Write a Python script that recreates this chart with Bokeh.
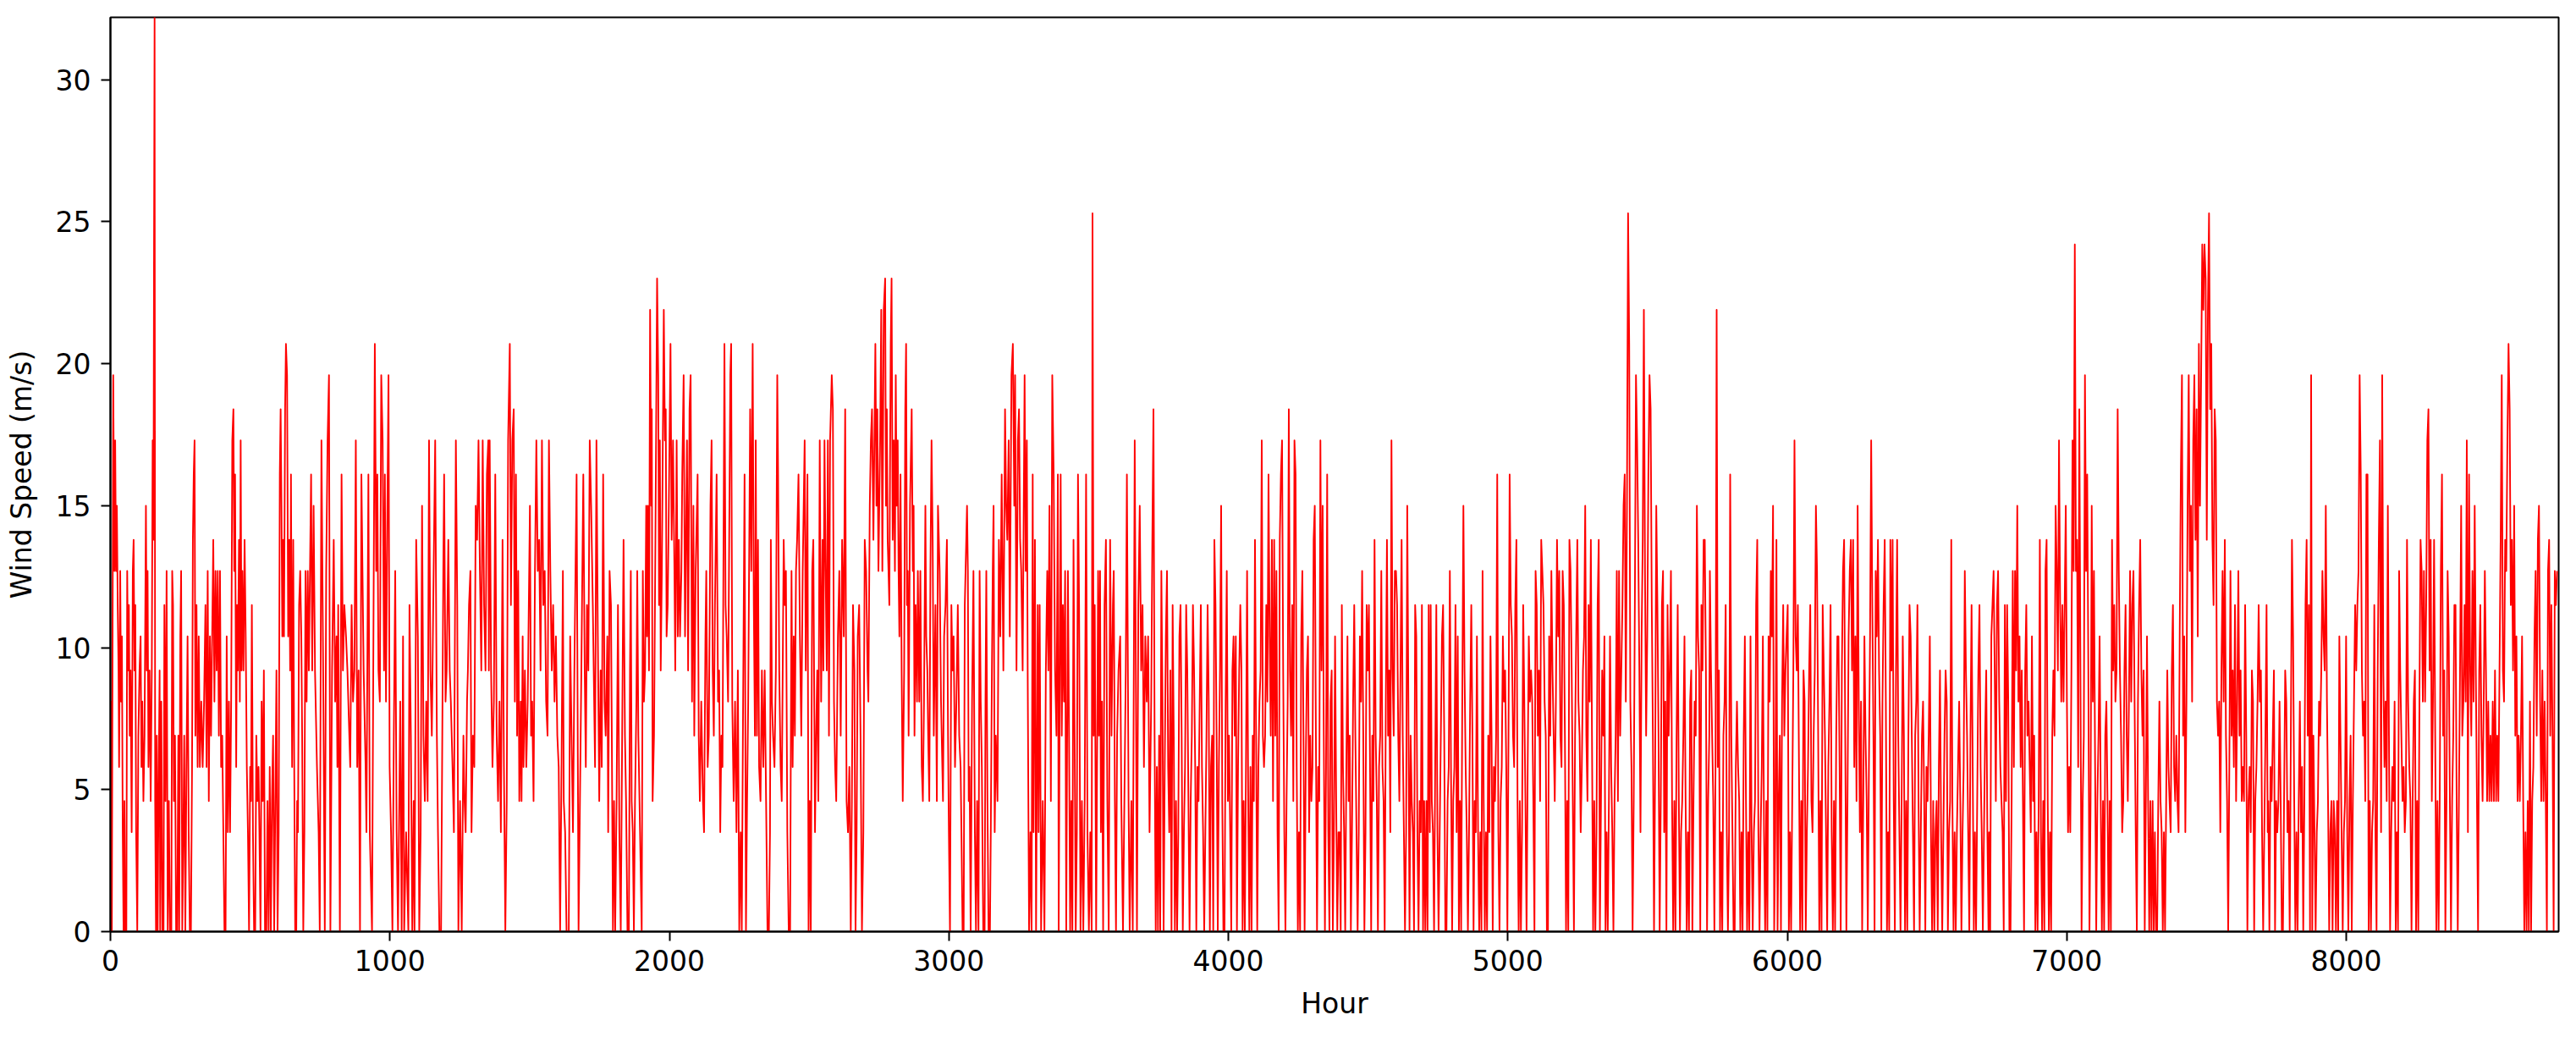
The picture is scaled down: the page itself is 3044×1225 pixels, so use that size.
import numpy as np
from bokeh.plotting import figure
from bokeh.models import Range1d, FixedTicker
from bokeh.embed import file_html
from bokeh.resources import INLINE

# ---- data (hourly wind speed, m/s) ----
hours_a = [0,2,5,10,14,17,20,23,26,29,
    31,35,38,41,44,47,50,53,57,60,
    63,66,69,72,76,80,83,86,89,92,
    96,100,104,108,111,114,118,122,127,130,
    133,136,140,144,148,151,154,156,158,160,
    163,166,169,172,176,178,182,186,190,193,
    197,201,205,209,213,218,221,224,227,231,
    235,239,243,246,250,253,257,261,264,268,
    272,276,280,284,288,292,295,298,301,304,
    308,312,316,320,325,330,335,340,344,348,
    352,356,360,364,368,372,376,380,384,388,
    392,396,400,404,408,412,416,420,424,428,
    432,436,440,443,446,450,453,456,460,463,
    466,469,472,476,480,484,488,492,496,500,
    503,506,510,514,518,522,526,530,533,537,
    541,545,549,553,558,562,566,570,574,578,
    582,586,590,594,598,602,606,609,612,615,
    618,621,625,628,632,636,640,643,646,650,
    654,657,661,665,668,671,675,679,683,686,
    690,694,698,702,706,710,714,718,722]
speed_a = [3.5,8.1,0,19.6,12.7,17.3,12.7,15.0,11.5,9.2,
    5.8,12.7,8.1,10.4,3.5,0,4.6,0,0,12.7,
    9.2,11.5,6.9,9.2,3.5,12.7,13.8,9.2,11.5,3.5,
    0,6.9,9.2,10.4,5.8,8.1,4.6,6.9,15.0,9.2,
    12.7,5.8,9.2,4.6,9.2,17.3,13.8,24.2,32.2,4.6,
    0,6.9,0,4.6,9.2,0,8.1,0,0,11.5,
    4.6,12.7,0,4.6,0,0,12.7,11.5,4.6,6.9,
    0,0,6.9,0,10.4,12.7,0,3.5,6.9,0,
    5.8,10.4,3.5,0,0,5.8,13.8,16.1,17.3,6.9,
    11.5,5.8,10.4,5.8,8.1,5.8,8.1,11.5,5.8,12.7,
    4.6,10.4,6.9,10.4,13.8,8.1,12.7,9.2,12.7,6.9,
    12.7,5.8,6.9,3.5,0,0,10.4,3.5,8.1,3.5,
    8.1,17.3,18.4,12.7,16.1,5.8,11.5,9.2,13.8,8.1,
    17.3,9.2,12.7,9.2,13.8,10.4,5.8,3.5,0,5.8,
    4.6,11.5,3.5,0,0,6.9,4.6,5.8,3.5,0,
    8.1,4.6,9.2,0,0,4.6,0,5.8,0,4.6,
    6.9,0,4.6,9.2,0,3.5,16.1,18.4,15.0,10.4,
    13.8,10.4,18.4,20.7,19.6,10.4,13.8,9.2,16.1,5.8,
    13.8,6.9,0,0,4.6,3.5,11.5,12.7,10.4,6.9,
    0,3.5,12.7,8.1,12.7,9.2,12.7,16.1,9.2]

hours_b = [727,732,739,745,749,755,762,767,772,777,
    782,787,793,799,804,809,812,815,821,827,
    832,837,843,848,858,863,868,873,878,883,
    888,893,898,906,913,916,923,928,936,946,
    951,955,959,964,969,974,979,982,986,991,
    995,999,1004,1009,1014,1019,1024,1029,1037,1042,
    1047,1051,1058,1066,1070,1075,1080,1085,1088,1094,
    1100,1105,1110,1115,1120,1125,1130,1135,1140,1145,
    1150,1155,1162,1168,1172,1177,1183,1186,1191,1194,
    1199,1203,1209,1214,1218,1224,1229,1236,1241,1245,
    1251,1257,1263,1267,1271,1276,1279,1283,1288,1292,
    1297,1302,1307,1312,1317,1322,1327,1332,1337,1342,
    1347,1352,1354,1357,1362,1367,1372,1377,1382,1387,
    1392,1397,1403,1408,1413,1418,1423,1429,1433,1438,
    1443,1447,1451,1455,1459,1463,1468,1471,1475,1478,
    1483,1488,1493,1501,1505,1509,1514,1519,1524,1529,
    1534,1539,1544,1549,1554,1559,1564,1569,1574,1579,
    1584,1589,1594,1599,1604,1609,1614,1619,1622,1627,
    1632,1640,1645,1650,1655,1660,1668,1675,1680,1685,
    1692,1697,1701,1705,1710,1715,1720]
speed_b = [15.0,9.2,5.8,3.5,0,17.3,8.1,0,12.7,17.3,
    19.6,0,9.2,13.8,8.1,10.4,5.8,11.5,0,16.1,
    9.2,11.5,10.4,9.2,5.8,11.5,8.1,9.2,17.3,5.8,
    9.2,0,16.1,9.2,5.8,3.5,16.1,3.5,0,20.7,
    12.7,16.1,9.2,8.1,19.6,17.3,9.2,16.1,8.1,15.0,
    19.6,5.8,3.5,0,6.9,12.7,3.5,0,8.1,0,
    10.4,0,3.5,0,11.5,6.9,0,4.6,0,13.8,
    10.4,0,3.5,15.0,6.9,4.6,8.1,4.6,17.3,9.2,
    6.9,11.5,17.3,6.9,3.5,0,0,4.6,12.7,16.1,
    8.1,9.2,13.8,9.2,8.1,5.8,3.5,17.3,11.5,0,
    4.6,0,6.9,4.6,3.5,8.1,9.2,11.5,12.7,3.5,
    6.9,5.8,15.0,13.8,17.3,12.7,9.2,17.3,11.5,9.2,
    16.1,17.3,9.2,17.3,9.2,5.8,8.1,16.1,6.9,4.6,
    8.1,3.5,13.8,5.8,0,4.6,17.3,20.7,11.5,17.3,
    18.4,8.1,16.1,6.9,12.7,4.6,8.1,4.6,10.4,5.8,
    9.2,5.8,8.1,15.0,6.9,8.1,4.6,12.7,17.3,12.7,
    13.8,9.2,17.3,11.5,12.7,8.1,6.9,17.3,12.7,9.2,
    11.5,8.1,10.4,6.9,5.8,0,5.8,12.7,4.6,3.5,
    0,0,10.4,6.9,3.5,9.2,16.1,0,4.6,9.2,
    16.1,9.2,5.8,11.5,9.2,17.3,15.0]

hours_c = [1726,1734,1739,1744,1749,1754,1758,1763,1768,1772,
    1778,1781,1786,1791,1794,1798,1802,1806,1811,1816,
    1821,1826,1831,1836,1841,1845,1850,1855,1859,1862,
    1865,1869,1873,1877,1882,1885,1889,1895,1901,1905,
    1909,1913,1917,1920,1923,1927,1931,1935,1937,1940,
    1945,1950,1956,1960,1963,1966,1969,1973,1980,1984,
    1987,1990,1994,1998,2004,2008,2013,2018,2021,2026,
    2030,2034,2038,2043,2046,2051,2056,2063,2067,2072,
    2076,2081,2086,2089,2094,2101,2105,2109,2114,2120,
    2124,2129,2132,2137,2141,2147,2151,2155,2159,2163,
    2169,2174,2178,2182,2186,2190,2197,2201,2205,2210,
    2214,2218,2221,2225,2230,2235,2240,2245,2250,2255,
    2259,2263,2269,2274,2278,2282,2289,2293,2298,2302,
    2306,2309,2313,2317,2321,2326,2331,2336,2341,2346,
    2351,2356,2360,2363,2367,2371,2376,2381,2386,2389,
    2393,2398,2402,2409,2413,2417,2422,2427,2432,2437,
    2441,2445,2449,2453,2457,2462,2467,2472,2477,2484,
    2488,2494,2498,2502,2506,2511,2515,2521,2525,2529,
    2533,2538,2543,2548,2551,2555,2559,2563,2567,2571,
    2575,2581,2585,2589,2593,2597,2603,2608,2613,2618,
    2624,2629,2634,2639,2644,2649,2653,2657,2662,2666,
    2670,2674,2679,2684,2689,2694,2699,2704,2709,2712,
    2717,2721]
speed_c = [11.5,5.8,17.3,10.4,4.6,9.2,5.8,16.1,8.1,6.9,
    10.4,3.5,12.7,11.5,6.9,0,4.6,0,4.6,11.5,
    3.5,0,6.9,13.8,6.9,4.6,0,0,9.2,12.7,
    4.6,3.5,0,4.6,8.1,12.7,6.9,3.5,0,12.7,
    8.1,9.2,15.0,10.4,15.0,9.2,21.9,15.0,18.4,4.6,
    6.9,13.8,23.0,19.6,11.5,17.3,9.2,12.7,21.9,17.3,
    18.4,10.4,11.5,15.0,20.7,13.8,17.3,12.7,9.2,17.3,
    10.4,13.8,10.4,12.7,16.1,19.6,10.4,17.3,9.2,18.4,
    19.6,8.1,15.0,6.9,12.7,16.1,6.9,4.6,8.1,4.6,
    3.5,10.4,12.7,5.8,6.9,15.0,17.3,9.2,6.9,11.5,
    16.1,8.1,9.2,3.5,6.9,5.8,20.7,11.5,10.4,8.1,
    13.8,19.6,20.7,8.1,4.6,8.1,3.5,9.2,0,3.5,
    0,6.9,16.1,0,4.6,8.1,18.4,12.7,20.7,11.5,
    6.9,17.3,6.9,13.8,5.8,4.6,9.2,5.8,9.2,4.6,
    0,0,3.5,13.8,8.1,6.9,5.8,9.2,19.6,16.1,
    9.2,5.8,4.6,13.8,11.5,12.7,3.5,0,0,12.7,
    5.8,10.4,6.9,12.7,13.8,16.1,10.4,6.9,12.7,17.3,
    9.2,16.1,0,4.6,0,12.7,13.8,3.5,6.9,9.2,
    4.6,17.3,8.1,13.8,9.2,17.3,12.7,9.2,17.3,6.9,
    17.3,19.6,18.4,8.1,5.8,4.6,10.4,12.7,6.9,13.8,
    10.4,18.4,4.6,3.5,5.8,0,4.6,11.5,9.2,0,
    3.5,10.4,11.5,6.9,0,3.5,13.8,12.7,9.2,8.1,
    15.0,17.3]

hours_d = [2725,2730,2737,2741,2744,2748,2751,2754,2758,2762,
    2767,2772,2775,2778,2781,2784,2787,2790,2792,2795,
    2799,2803,2807,2810,2813,2817,2820,2823,2827,2831,
    2835,2840,2844,2847,2850,2853,2856,2861,2867,2871,
    2874,2877,2881,2886,2889,2894,2898,2903,2907,2911,
    2916,2919,2923,2926,2930,2934,2938,2942,2946,2952,
    2957,2961,2967,2972,2979,2983,2988,2993,2997,3000,
    3004,3009,3013,3017,3022,3027,3032,3037,3042,3045,
    3049,3053,3057,3065,3068,3071,3074,3078,3083,3088,
    3093,3097,3101,3106,3110,3114,3118,3123,3128,3131,
    3134,3138,3142,3147,3150,3154,3157,3160,3164,3168,
    3174,3179,3184,3189,3195,3201,3205,3209,3214,3218,
    3224,3229,3234,3237,3242,3247,3251,3255,3259,3264,
    3271,3275,3279,3282,3287,3292,3296,3300,3303,3308,
    3312,3318,3321,3325,3330,3336,3342,3347,3352,3356,
    3360,3365,3370,3375,3380,3385,3390,3393,3400,3404,
    3408,3412,3416,3420,3426,3430,3434,3438,3442,3446,
    3450,3454,3458,3462,3466,3471,3476,3481,3486,3491,
    3496,3501,3506,3511,3514,3518,3522,3527,3534,3537,
    3541,3544,3548,3552,3557,3562,3567,3572,3577,3582,
    3587,3590,3594,3598,3602,3607,3613,3617,3623,3628,
    3633,3637,3643,3647,3653,3658,3665,3669,3673,3678,
    3683,3688,3693,3698,3703,3708,3713,3718]
speed_d = [18.4,13.8,20.7,15.0,18.4,12.7,15.0,17.3,21.9,12.7,
    21.9,23.0,15.0,18.4,13.8,12.7,11.5,17.3,20.7,23.0,
    13.8,17.3,12.7,19.6,15.0,17.3,12.7,10.4,16.1,9.2,
    4.6,9.2,18.4,20.7,11.5,12.7,6.9,15.0,18.4,12.7,
    15.0,6.9,11.5,8.1,12.7,8.1,12.7,5.8,4.6,8.1,
    15.0,10.4,9.2,6.9,4.6,12.7,17.3,13.8,6.9,11.5,
    4.6,15.0,12.7,8.1,4.6,10.4,11.5,13.8,6.9,3.5,
    0,11.5,9.2,10.4,5.8,8.1,11.5,6.9,5.8,3.5,
    0,0,11.5,15.0,12.7,4.6,5.8,0,8.1,12.7,
    3.5,0,4.6,0,12.7,8.1,5.8,0,0,8.1,
    12.7,4.6,0,0,3.5,9.2,12.7,15.0,3.5,6.9,
    4.6,13.8,10.4,16.1,9.2,18.4,15.0,13.8,17.3,10.4,
    19.6,20.7,15.0,19.6,9.2,17.3,18.4,13.8,12.7,9.2,
    19.6,12.7,17.3,9.2,0,3.5,0,16.1,3.5,13.8,
    0,11.5,3.5,11.5,0,4.6,0,9.2,12.7,9.2,
    15.0,4.6,19.6,16.1,9.2,6.9,16.1,0,16.1,6.9,
    11.5,8.1,12.7,0,12.7,6.9,0,4.6,0,13.8,
    6.9,0,3.5,16.1,11.5,0,4.6,0,4.6,16.1,
    3.5,0,3.5,0,25.3,6.9,11.5,0,12.7,6.9,
    12.7,3.5,8.1,0,11.5,13.8,4.6,0,13.8,6.9,
    11.5,12.7,4.6,0,6.9,9.2,10.4,4.6,0,4.6,
    9.2,16.1,4.6,0,4.6,0,17.3,9.2,0,11.5,
    15.0,9.2,11.5,5.8,10.4,8.1,10.4,3.5]

# second half of the year: readings on an even 4-hour grid
grid_starts = [3724, 4724, 5723, 6722, 7721]
grid_step = 4.036

speed_e = [8.1,13.8,18.4,6.9,0,5.8,0,6.9,0,12.7,
    8.1,0,5.8,10.4,12.7,5.8,3.5,9.2,0,11.5,
    6.9,0,4.6,0,3.5,10.4,11.5,6.9,0,3.5,
    5.8,11.5,9.2,4.6,0,4.6,6.9,11.5,9.2,5.8,
    0,5.8,4.6,8.1,11.5,5.8,3.5,0,3.5,6.9,
    11.5,8.1,0,5.8,6.9,0,13.8,11.5,6.9,0,
    5.8,9.2,15.0,4.6,0,0,8.1,12.7,4.6,6.9,
    3.5,0,9.2,10.4,6.9,10.4,0,5.8,9.2,11.5,
    9.2,0,4.6,0,5.8,12.7,4.6,0,5.8,0,
    6.9,4.6,13.8,6.9,0,5.8,8.1,9.2,17.3,6.9,
    5.8,6.9,11.5,8.1,16.1,10.4,6.9,13.8,4.6,13.8,
    6.9,12.7,3.5,0,13.8,16.1,17.3,9.2,3.5,0,
    4.6,8.1,18.4,9.2,6.9,11.5,4.6,17.3,16.1,5.8,
    0,3.5,0,10.4,12.7,6.9,0,5.8,9.2,10.4,
    3.5,6.9,4.6,5.8,13.8,15.0,6.9,0,5.8,4.6,
    17.3,9.2,15.0,6.9,0,5.8,16.1,3.5,0,8.1,
    9.2,0,3.5,10.4,4.6,0,3.5,3.5,0,11.5,
    5.8,3.5,0,5.8,10.4,4.6,6.9,0,3.5,8.1,
    11.5,6.9,3.5,0,3.5,10.4,8.1,12.7,6.9,0,
    3.5,11.5,9.2,11.5,5.8,0,6.9,4.6,13.8,6.9,
    4.6,0,5.8,6.9,12.7,5.8,4.6,0,8.1,13.8,
    6.9,9.2,3.5,17.3,9.2,6.9,12.7,12.7,11.5,6.9,
    4.6,9.2,13.8,6.9,3.5,0,3.5,15.0,8.1,0,
    6.9,4.6,3.5,0,11.5,10.4,3.5,0,4.6,3.5,
    11.5,0,4.6,0,4.6,0,11.5,3.5]

speed_f = [11.5,4.6,3.5,0,5.8,11.5,3.5,0,3.5,6.9,
    10.4,11.5,6.9,0,0,4.6,5.8,12.7,5.8,0,
    4.6,5.8,11.5,3.5,10.4,0,4.6,0,8.1,15.0,
    9.2,5.8,3.5,0,3.5,8.1,11.5,6.9,0,4.6,
    3.5,10.4,3.5,0,3.5,0,12.7,4.6,0,3.5,
    0,6.9,3.5,10.4,6.9,0,5.8,4.6,6.9,16.1,
    3.5,0,4.6,5.8,10.4,8.1,9.2,5.8,0,6.9,
    16.1,11.5,10.4,6.9,5.8,11.5,13.8,4.6,0,4.6,
    0,3.5,11.5,8.1,4.6,0,5.8,10.4,8.1,9.2,
    8.1,4.6,0,12.7,11.5,6.9,9.2,4.6,13.8,12.7,
    11.5,8.1,6.9,0,0,10.4,6.9,12.7,9.2,6.9,
    4.6,8.1,13.8,10.4,12.7,6.9,5.8,12.7,11.5,6.9,
    0,4.6,0,13.8,12.7,9.2,4.6,0,6.9,10.4,
    13.8,8.1,6.9,3.5,5.8,9.2,10.4,15.0,6.9,4.6,
    11.5,8.1,13.8,6.9,0,4.6,0,3.5,11.5,13.8,
    0,4.6,9.2,6.9,10.4,0,3.5,0,4.6,10.4,
    5.8,3.5,0,4.6,6.9,12.7,4.6,12.7,6.9,9.2,
    11.5,15.0,16.1,8.1,15.0,25.3,20.7,8.1,5.8,0,
    4.6,11.5,19.6,17.3,13.8,9.2,3.5,10.4,13.8,21.9,
    12.7,6.9,10.4,16.1,19.6,18.4,11.5,6.9,0,5.8,
    15.0,11.5,6.9,0,4.6,11.5,12.7,3.5,8.1,0,
    11.5,6.9,9.2,12.7,4.6,0,4.6,0,6.9,11.5,
    4.6,0,3.5,4.6,6.9,10.4,4.6,0,3.5,0,
    8.1,9.2,0,4.6,8.1,6.9,15.0,10.4,9.2,0,
    11.5,9.2,13.8,13.8,9.2,0,4.6,6.9]

speed_g = [12.7,9.2,6.9,4.6,0,5.8,21.9,5.8,9.2,0,
    3.5,0,6.9,8.1,11.5,3.5,0,3.5,16.1,6.9,
    3.5,0,0,5.8,8.1,5.8,4.6,0,3.5,0,
    6.9,10.4,4.6,0,3.5,0,10.4,3.5,0,3.5,
    4.6,11.5,13.8,3.5,0,3.5,5.8,10.4,3.5,0,
    4.6,0,10.4,8.1,12.7,10.4,15.0,0,3.5,13.8,
    0,4.6,6.9,0,8.1,11.5,6.9,9.2,10.4,11.5,
    0,3.5,0,4.6,9.2,17.3,10.4,9.2,11.5,5.8,
    0,4.6,0,9.2,8.1,0,3.5,5.8,9.2,11.5,
    4.6,3.5,6.9,9.2,15.0,12.7,6.9,0,4.6,0,
    11.5,9.2,6.9,3.5,0,5.8,8.1,11.5,3.5,0,
    4.6,0,6.9,10.4,10.4,5.8,0,9.2,12.7,13.8,
    6.9,0,4.6,10.4,12.7,13.8,9.2,13.8,5.8,10.4,
    4.6,15.0,8.1,3.5,8.1,0,4.6,10.4,6.9,4.6,
    0,5.8,10.4,17.3,11.5,6.9,0,12.7,10.4,13.8,
    9.2,6.9,0,8.1,11.5,13.8,8.1,0,3.5,0,
    13.8,9.2,13.8,4.6,0,9.2,13.8,6.9,3.5,0,
    4.6,10.4,6.9,0,4.6,0,6.9,11.5,10.4,6.9,
    3.5,0,6.9,8.1,11.5,4.6,0,3.5,6.9,8.1,
    4.6,0,5.8,4.6,6.9,10.4,3.5,0,4.6,0,
    3.5,4.6,0,5.8,9.2,3.5,0,3.5,6.9,9.2,
    8.1,0,3.5,4.6,13.8,4.6,0,3.5,0,3.5,
    5.8,8.1,4.6,0,3.5,5.8,12.7,9.2,6.9,3.5,
    0,6.9,11.5,5.8,0,3.5,0,4.6,9.2,11.5,
    5.8,3.5,0,3.5,6.9,9.2,3.5,0]

speed_h = [3.5,0,10.4,11.5,12.7,9.2,4.6,11.5,12.7,8.1,
    5.8,4.6,3.5,0,11.5,4.6,11.5,8.1,0,0,
    4.6,12.7,5.8,12.7,9.2,15.0,8.1,10.4,5.8,9.2,
    4.6,0,9.2,11.5,6.9,8.1,5.8,3.5,10.4,4.6,
    6.9,0,3.5,0,4.6,13.8,3.5,0,4.6,0,
    12.7,13.8,4.6,0,3.5,0,6.9,9.2,6.9,15.0,
    12.7,9.2,17.3,11.5,8.1,11.5,8.1,11.5,15.0,8.1,
    3.5,5.8,3.5,9.2,17.3,12.7,24.2,12.7,13.8,5.8,
    18.4,9.2,0,4.6,6.9,19.6,12.7,16.1,9.2,0,
    4.6,15.0,8.1,12.7,5.8,0,4.6,6.9,10.4,4.6,
    0,4.6,0,6.9,8.1,4.6,0,4.6,0,13.8,
    9.2,11.5,8.1,9.2,18.4,12.7,9.2,6.9,3.5,4.6,
    9.2,11.5,6.9,4.6,8.1,12.7,8.1,11.5,12.7,8.1,
    3.5,0,8.1,11.5,13.8,9.2,6.9,9.2,0,4.6,
    10.4,4.6,0,4.6,0,4.6,0,3.5,0,0,
    4.6,8.1,4.6,3.5,0,3.5,0,4.6,9.2,5.8,
    4.6,3.5,9.2,11.5,5.8,4.6,6.9,4.6,3.5,10.4,
    16.1,19.6,6.9,10.4,3.5,8.1,15.0,19.6,12.7,15.0,
    8.1,17.3,19.6,13.8,18.4,10.4,20.7,15.0,19.6,24.2,
    21.9,24.2,23.0,13.8,21.9,25.3,18.4,20.7,13.8,11.5,
    18.4,17.3,8.1,6.9,8.1,3.5,9.2,12.7,8.1,13.8,
    6.9,4.6,0,5.8,12.7,6.9,9.2,5.8,11.5,4.6,
    8.1,12.7,6.9,9.2,4.6,5.8,4.6,11.5,6.9,0,
    4.6,5.8,3.5,9.2,8.1,0,4.6,5.8,8.1,11.5,
    8.1,9.2,3.5,0,3.5,6.9,11.5,3.5]

speed_i = [4.6,0,5.8,4.6,6.9,9.2,0,4.6,3.5,4.6,
    8.1,4.6,0,0,4.6,9.2,8.1,3.5,4.6,0,
    6.9,13.8,10.4,4.6,0,3.5,0,4.6,8.1,3.5,
    5.8,0,4.6,11.5,13.8,6.9,11.5,0,19.6,0,
    6.9,3.5,0,3.5,4.6,8.1,6.9,9.2,12.7,10.4,
    9.2,15.0,8.1,4.6,0,3.5,4.6,0,4.6,3.5,
    0,4.6,0,10.4,6.9,3.5,0,3.5,4.6,10.4,
    3.5,0,4.6,6.9,0,4.6,8.1,11.5,9.2,11.5,
    12.7,19.6,16.1,9.2,6.9,8.1,4.6,16.1,16.1,0,
    4.6,0,3.5,4.6,11.5,3.5,0,9.2,13.8,17.3,
    3.5,19.6,9.2,5.8,8.1,4.6,15.0,6.9,0,3.5,
    5.8,4.6,8.1,0,3.5,0,12.7,9.2,6.9,4.6,
    5.8,3.5,4.6,13.8,8.1,5.8,4.6,0,4.6,8.1,
    9.2,0,4.6,0,8.1,13.8,12.7,8.1,12.7,8.1,
    11.5,17.3,18.4,9.2,13.8,4.6,8.1,13.8,6.9,0,
    4.6,0,4.6,12.7,16.1,6.9,9.2,0,4.6,12.7,
    10.4,4.6,0,4.6,6.9,11.5,11.5,4.6,0,4.6,
    9.2,15.0,6.9,8.1,11.5,8.1,17.3,3.5,16.1,9.2,
    6.9,12.7,8.1,15.0,9.2,4.6,0,9.2,11.5,6.9,
    4.6,8.1,12.7,9.2,4.6,8.1,4.6,6.9,4.6,8.1,
    4.6,9.2,4.6,6.9,4.6,9.2,13.8,19.6,9.2,8.1,
    13.8,12.7,17.3,20.7,18.4,11.5,13.8,9.2,15.0,6.9,
    10.4,4.6,6.9,4.6,6.9,10.4,4.6,0,3.5,0,
    4.6,0,8.1,0,4.6,5.8,10.4,12.7,6.9,13.8,
    15.0,8.1,4.6,9.2,4.6,8.1,4.6,0,12.7,13.8,
    6.9,11.5,6.9,0,12.7,11.5,12.7]

x_ticks = [0, 1000, 2000, 3000, 4000, 5000, 6000, 7000, 8000]
y_ticks = [0, 5, 10, 15, 20, 25, 30]
x_label = "Hour"
y_label = "Wind Speed (m/s)"

# ---- assemble the series ----
hours, speed = [], []
for hs, vs in [(hours_a, speed_a), (hours_b, speed_b), (hours_c, speed_c), (hours_d, speed_d)]:
    n = min(len(hs), len(vs))
    hours += list(hs[:n])
    speed += list(vs[:n])
for start, vs in zip(grid_starts, [speed_e, speed_f, speed_g, speed_h, speed_i]):
    hours += [start + grid_step * i for i in range(len(vs))]
    speed += list(vs)

FONT = "DejaVu Sans"

p = figure(frame_width=2893, frame_height=1080,
           min_border_left=130, min_border_right=13,
           min_border_top=20, min_border_bottom=112,
           x_range=Range1d(0, 8760), y_range=Range1d(0, 32.2),
           output_backend="svg", toolbar_location=None)

p.line(hours, speed, line_color="#ff0000", line_width=1.9, line_join="round")

p.xgrid.visible = False
p.ygrid.visible = False
p.background_fill_color = "white"
p.border_fill_color = "white"
p.outline_line_color = "black"
p.outline_line_width = 2
p.outline_line_alpha = 1.0

p.xaxis.ticker = FixedTicker(ticks=x_ticks)
p.yaxis.ticker = FixedTicker(ticks=y_ticks)
p.xaxis.axis_label = x_label
p.yaxis.axis_label = y_label

for ax in (p.xaxis, p.yaxis):
    ax.axis_line_width = 2
    ax.axis_line_color = "black"
    ax.major_tick_line_width = 2
    ax.major_tick_line_color = "black"
    ax.major_tick_out = 11
    ax.major_tick_in = 0
    ax.minor_tick_out = 0
    ax.minor_tick_in = 0
    ax.major_label_text_font = FONT
    ax.major_label_text_font_size = "33px"
    ax.major_label_text_color = "black"
    ax.axis_label_text_font = FONT
    ax.axis_label_text_font_size = "33px"
    ax.axis_label_text_font_style = "normal"
    ax.axis_label_text_color = "black"

p.xaxis.major_label_standoff = 10
p.xaxis.axis_label_standoff = 16
p.yaxis.major_label_standoff = 12
p.yaxis.axis_label_standoff = 18

open("out.html", "w").write(file_html(p, INLINE))
